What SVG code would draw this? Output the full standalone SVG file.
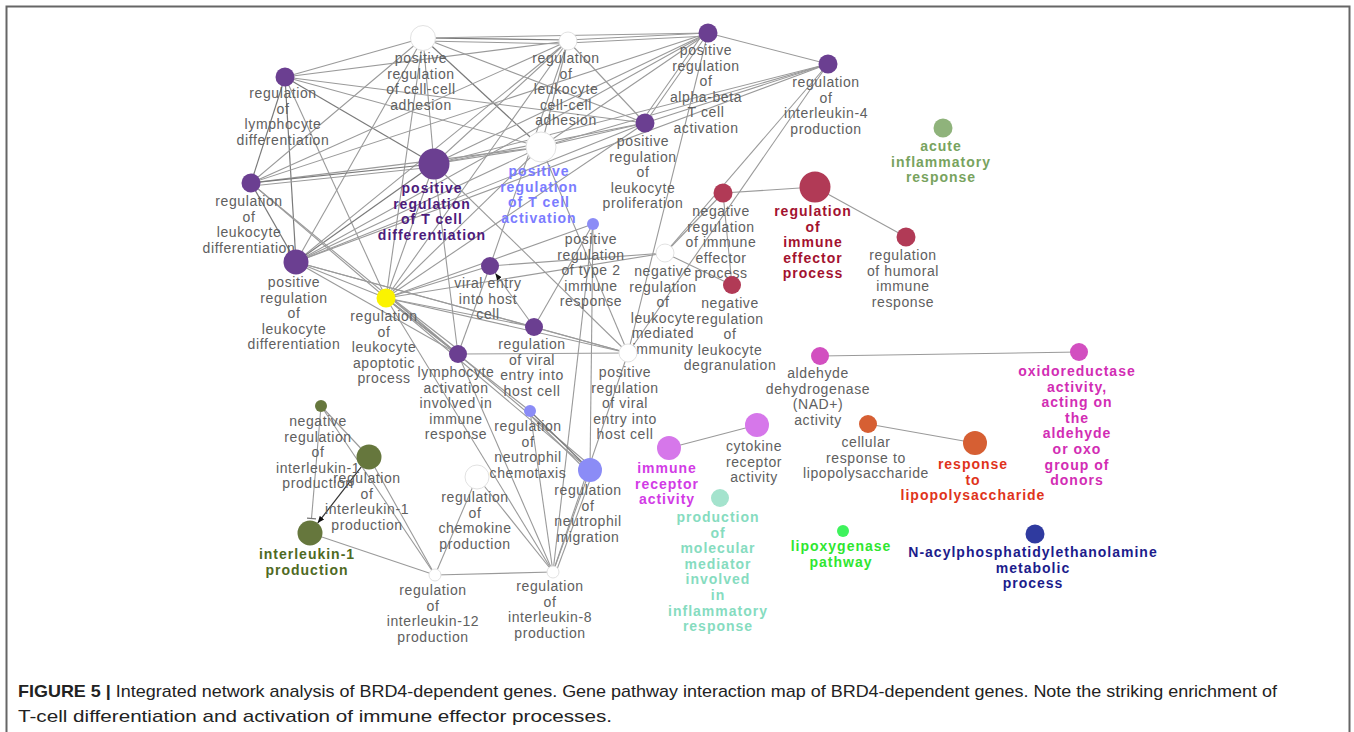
<svg xmlns="http://www.w3.org/2000/svg" width="1354" height="732" viewBox="0 0 1354 732">
<style>
.e{stroke:#9a9a9a;stroke-width:1.1;fill:none}
.ed{stroke:#7a7a7a;stroke-width:1.2;fill:none}
.lb{font-family:"Liberation Sans",Arial,sans-serif;font-size:14px;letter-spacing:.6px;fill:#606060;text-anchor:middle}
.bd{font-family:"Liberation Sans",Arial,sans-serif;font-size:14px;letter-spacing:1px;font-weight:bold;text-anchor:middle}
.pu{fill:#6b3f91}
.wh{fill:#ffffff;stroke:#e2e2e2;stroke-width:1}
.lbu{fill:#8b8cf6}
.rd{fill:#b13a56}
.ol{fill:#66773d}
.cap{font-family:"Liberation Sans",Arial,sans-serif;font-size:17px;fill:#222}
</style>
<defs>
<marker id="arr" viewBox="0 0 10 10" refX="10" refY="5" markerWidth="7" markerHeight="7" markerUnits="userSpaceOnUse" orient="auto"><path d="M0,1 L10,5 L0,9 z" fill="#111"/></marker>
<marker id="tee" viewBox="0 0 4 10" refX="2" refY="5" markerWidth="4" markerHeight="9" markerUnits="userSpaceOnUse" orient="auto"><path d="M2,0 V10" stroke="#777" stroke-width="1.5"/></marker>
</defs>
<rect width="1354" height="732" fill="#fff"/>
<path d="M6.5,732 V6.5 H1349.5 V732" fill="none" stroke="#666" stroke-width="2"/>

<g id="connectors">
<line class="e" x1="285" y1="77" x2="423" y2="38"/>
<line class="e" x1="285" y1="77" x2="568" y2="41"/>
<line class="ed" x1="285" y1="77" x2="251" y2="183"/>
<line class="ed" x1="285" y1="77" x2="296" y2="262"/>
<line class="ed" x1="285" y1="77" x2="434" y2="164"/>
<line class="e" x1="285" y1="77" x2="541" y2="147"/>
<line class="e" x1="285" y1="77" x2="386" y2="298"/>
<line class="e" x1="285" y1="77" x2="645" y2="123"/>
<line class="ed" x1="423" y1="38" x2="568" y2="40"/>
<line class="e" x1="423" y1="41" x2="568" y2="44"/>
<line class="e" x1="423" y1="38" x2="708" y2="33"/>
<line class="e" x1="423" y1="38" x2="434" y2="164"/>
<line class="e" x1="423" y1="38" x2="296" y2="262"/>
<line class="ed" x1="423" y1="38" x2="541" y2="147"/>
<line class="e" x1="423" y1="38" x2="645" y2="123"/>
<line class="e" x1="423" y1="38" x2="386" y2="298"/>
<line class="e" x1="423" y1="38" x2="251" y2="183"/>
<line class="e" x1="568" y1="40" x2="708" y2="33"/>
<line class="e" x1="568" y1="43" x2="708" y2="36"/>
<line class="e" x1="568" y1="41" x2="434" y2="164"/>
<line class="e" x1="568" y1="41" x2="251" y2="183"/>
<line class="e" x1="568" y1="41" x2="296" y2="262"/>
<line class="e" x1="568" y1="41" x2="645" y2="123"/>
<line class="e" x1="568" y1="41" x2="541" y2="147"/>
<line class="e" x1="568" y1="41" x2="386" y2="298"/>
<line class="e" x1="708" y1="33" x2="828" y2="64"/>
<line class="e" x1="708" y1="33" x2="645" y2="123"/>
<line class="e" x1="705" y1="31" x2="642" y2="121"/>
<line class="e" x1="708" y1="33" x2="434" y2="164"/>
<line class="e" x1="708" y1="33" x2="296" y2="262"/>
<line class="e" x1="708" y1="33" x2="541" y2="147"/>
<line class="e" x1="708" y1="33" x2="251" y2="183"/>
<line class="e" x1="708" y1="33" x2="628" y2="353"/>
<line class="e" x1="828" y1="64" x2="434" y2="164"/>
<line class="e" x1="828" y1="64" x2="296" y2="262"/>
<line class="e" x1="828" y1="64" x2="541" y2="147"/>
<line class="e" x1="828" y1="64" x2="628" y2="353"/>
<line class="e" x1="828" y1="64" x2="665" y2="253"/>
<line class="e" x1="828" y1="64" x2="645" y2="123"/>
<line class="e" x1="645" y1="123" x2="434" y2="164"/>
<line class="e" x1="645" y1="123" x2="296" y2="262"/>
<line class="e" x1="645" y1="123" x2="541" y2="147"/>
<line class="e" x1="645" y1="123" x2="386" y2="298"/>
<line class="e" x1="541" y1="147" x2="434" y2="164"/>
<line class="e" x1="541" y1="147" x2="251" y2="183"/>
<line class="e" x1="541" y1="147" x2="296" y2="262"/>
<line class="e" x1="541" y1="147" x2="386" y2="298"/>
<line class="e" x1="541" y1="147" x2="628" y2="353"/>
<line class="ed" x1="434" y1="164" x2="251" y2="183"/>
<line class="e" x1="434" y1="167" x2="251" y2="186"/>
<line class="ed" x1="434" y1="164" x2="296" y2="262"/>
<line class="e" x1="434" y1="164" x2="386" y2="298"/>
<line class="e" x1="434" y1="164" x2="458" y2="354"/>
<line class="e" x1="434" y1="164" x2="628" y2="353"/>
<line class="ed" x1="251" y1="183" x2="296" y2="262"/>
<line class="e" x1="251" y1="183" x2="386" y2="298"/>
<line class="e" x1="251" y1="183" x2="458" y2="354"/>
<line class="e" x1="296" y1="262" x2="386" y2="298"/>
<line class="e" x1="296" y1="262" x2="628" y2="353"/>
<line class="e" x1="296" y1="262" x2="534" y2="327"/>
<line class="e" x1="296" y1="262" x2="458" y2="354"/>
<line class="e" x1="386" y1="298" x2="490" y2="266"/>
<line class="e" x1="386" y1="298" x2="593" y2="224"/>
<line class="e" x1="386" y1="298" x2="665" y2="253"/>
<line class="e" x1="386" y1="298" x2="534" y2="327"/>
<line class="ed" x1="386" y1="298" x2="458" y2="354"/>
<line class="e" x1="388" y1="295" x2="460" y2="351"/>
<line class="e" x1="386" y1="298" x2="628" y2="353"/>
<line class="e" x1="386" y1="298" x2="590" y2="470"/>
<line class="e" x1="389" y1="296" x2="592" y2="467"/>
<line class="e" x1="386" y1="298" x2="530" y2="411"/>
<line class="e" x1="386" y1="298" x2="553" y2="572"/>
<line class="e" x1="490" y1="266" x2="665" y2="253"/>
<line class="e" x1="490" y1="266" x2="458" y2="354"/>
<line class="e" x1="490" y1="266" x2="568" y2="41"/>
<line class="e" x1="534" y1="327" x2="495.3" y2="273.3" marker-end="url(#arr)"/>
<line class="e" x1="593" y1="224" x2="534" y2="327"/>
<line class="e" x1="593" y1="224" x2="553" y2="572"/>
<line class="e" x1="593" y1="224" x2="590" y2="470"/>
<line class="e" x1="665" y1="253" x2="723" y2="193"/>
<line class="e" x1="665" y1="253" x2="732" y2="285"/>
<line class="e" x1="723" y1="193" x2="815" y2="187"/>
<line class="e" x1="723" y1="193" x2="732" y2="285"/>
<line class="e" x1="815" y1="187" x2="906" y2="237"/>
<line class="e" x1="534" y1="327" x2="628" y2="353"/>
<line class="e" x1="458" y1="354" x2="628" y2="353"/>
<line class="e" x1="458" y1="354" x2="553" y2="572"/>
<line class="ed" x1="530" y1="411" x2="590" y2="470"/>
<line class="e" x1="528" y1="413" x2="588" y2="472"/>
<line class="e" x1="530" y1="411" x2="553" y2="572"/>
<line class="e" x1="590" y1="470" x2="553" y2="572"/>
<line class="e" x1="593" y1="472" x2="556" y2="572"/>
<line class="e" x1="628" y1="353" x2="553" y2="572"/>
<line class="e" x1="477" y1="477" x2="435" y2="575"/>
<line class="e" x1="477" y1="477" x2="553" y2="572"/>
<line class="e" x1="435" y1="575" x2="553" y2="572"/>
<line class="e" x1="435" y1="575" x2="310" y2="533"/>
<line class="e" x1="435" y1="575" x2="369" y2="457"/>
<line class="e" x1="435" y1="575" x2="321" y2="406"/>
<line class="e" x1="321" y1="406" x2="369" y2="457"/>
<line class="e" x1="320.5" y1="412" x2="311.5" y2="518.5" marker-end="url(#tee)"/>
<line x1="361.3" y1="466.9" x2="317.7" y2="523.1" stroke="#333" stroke-width="1.2" marker-end="url(#arr)"/>
<line class="e" x1="820" y1="356" x2="1079" y2="352"/>
<line class="e" x1="757" y1="425" x2="669" y2="448"/>
<line class="e" x1="868" y1="424" x2="975" y2="443"/>
</g>

<g id="A"><circle class="pu" cx="285" cy="77" r="9.5"/><text class="lb" x="283" y="98"><tspan x="283">regulation</tspan><tspan x="283" dy="15.6">of</tspan><tspan x="283" dy="15.6">lymphocyte</tspan><tspan x="283" dy="15.6">differentiation</tspan></text></g>
<g id="B"><circle class="wh" cx="423" cy="38" r="12.5"/><text class="lb" x="421" y="63"><tspan x="421">positive</tspan><tspan x="421" dy="15.6">regulation</tspan><tspan x="421" dy="15.6">of cell-cell</tspan><tspan x="421" dy="15.6">adhesion</tspan></text></g>
<g id="C"><circle class="wh" cx="568" cy="41" r="9"/><text class="lb" x="566" y="63"><tspan x="566">regulation</tspan><tspan x="566" dy="15.6">of</tspan><tspan x="566" dy="15.6">leukocyte</tspan><tspan x="566" dy="15.6">cell-cell</tspan><tspan x="566" dy="15.6">adhesion</tspan></text></g>
<g id="D"><circle class="pu" cx="708" cy="33" r="9.5"/><text class="lb" x="706" y="55"><tspan x="706">positive</tspan><tspan x="706" dy="15.6">regulation</tspan><tspan x="706" dy="15.6">of</tspan><tspan x="706" dy="15.6">alpha-beta</tspan><tspan x="706" dy="15.6">T cell</tspan><tspan x="706" dy="15.6">activation</tspan></text></g>
<g id="E"><circle class="pu" cx="828" cy="64" r="9.5"/><text class="lb" x="826" y="87"><tspan x="826">regulation</tspan><tspan x="826" dy="15.6">of</tspan><tspan x="826" dy="15.6">interleukin-4</tspan><tspan x="826" dy="15.6">production</tspan></text></g>
<g id="F"><circle cx="943" cy="128" r="9.5" fill="#8fb37b"/><text class="bd" x="941" y="151" fill="#78a35e"><tspan x="941">acute</tspan><tspan x="941" dy="15.6">inflammatory</tspan><tspan x="941" dy="15.6">response</tspan></text></g>
<g id="G"><circle class="pu" cx="645" cy="123" r="9.5"/><text class="lb" x="643" y="146"><tspan x="643">positive</tspan><tspan x="643" dy="15.6">regulation</tspan><tspan x="643" dy="15.6">of</tspan><tspan x="643" dy="15.6">leukocyte</tspan><tspan x="643" dy="15.6">proliferation</tspan></text></g>
<g id="H"><circle class="wh" cx="541" cy="147" r="15"/><text class="bd" x="539" y="176" fill="#7b7cff"><tspan x="539">positive</tspan><tspan x="539" dy="15.6">regulation</tspan><tspan x="539" dy="15.6">of T cell</tspan><tspan x="539" dy="15.6">activation</tspan></text></g>
<g id="I"><circle class="pu" cx="434" cy="164" r="15.5"/><text class="bd" x="432" y="193" fill="#4d1c7c"><tspan x="432">positive</tspan><tspan x="432" dy="15.6">regulation</tspan><tspan x="432" dy="15.6">of T cell</tspan><tspan x="432" dy="15.6">differentiation</tspan></text></g>
<g id="J"><circle class="pu" cx="251" cy="183" r="9.5"/><text class="lb" x="249" y="206"><tspan x="249">regulation</tspan><tspan x="249" dy="15.6">of</tspan><tspan x="249" dy="15.6">leukocyte</tspan><tspan x="249" dy="15.6">differentiation</tspan></text></g>
<g id="K"><circle class="pu" cx="296" cy="262" r="12.5"/><text class="lb" x="294" y="287"><tspan x="294">positive</tspan><tspan x="294" dy="15.6">regulation</tspan><tspan x="294" dy="15.6">of</tspan><tspan x="294" dy="15.6">leukocyte</tspan><tspan x="294" dy="15.6">differentiation</tspan></text></g>
<g id="L"><circle cx="386" cy="298" r="9.5" fill="#fbf300"/><text class="lb" x="384" y="321"><tspan x="384">regulation</tspan><tspan x="384" dy="15.6">of</tspan><tspan x="384" dy="15.6">leukocyte</tspan><tspan x="384" dy="15.6">apoptotic</tspan><tspan x="384" dy="15.6">process</tspan></text></g>
<g id="M"><circle class="pu" cx="490" cy="266" r="9"/><text class="lb" x="488" y="288"><tspan x="488">viral entry</tspan><tspan x="488" dy="15.6">into host</tspan><tspan x="488" dy="15.6">cell</tspan></text></g>
<g id="N"><circle class="lbu" cx="593" cy="224" r="6"/><text class="lb" x="591" y="244"><tspan x="591">positive</tspan><tspan x="591" dy="15.6">regulation</tspan><tspan x="591" dy="15.6">of type 2</tspan><tspan x="591" dy="15.6">immune</tspan><tspan x="591" dy="15.6">response</tspan></text></g>
<g id="O"><circle class="wh" cx="665" cy="253" r="9"/><text class="lb" x="663" y="276"><tspan x="663">negative</tspan><tspan x="663" dy="15.6">regulation</tspan><tspan x="663" dy="15.6">of</tspan><tspan x="663" dy="15.6">leukocyte</tspan><tspan x="663" dy="15.6">mediated</tspan><tspan x="663" dy="15.6">immunity</tspan></text></g>
<g id="P"><circle class="rd" cx="723" cy="193" r="9.5"/><text class="lb" x="721" y="216"><tspan x="721">negative</tspan><tspan x="721" dy="15.6">regulation</tspan><tspan x="721" dy="15.6">of immune</tspan><tspan x="721" dy="15.6">effector</tspan><tspan x="721" dy="15.6">process</tspan></text></g>
<g id="Q"><circle class="rd" cx="815" cy="187" r="15.5"/><text class="bd" x="813" y="216" fill="#a3122f"><tspan x="813">regulation</tspan><tspan x="813" dy="15.6">of</tspan><tspan x="813" dy="15.6">immune</tspan><tspan x="813" dy="15.6">effector</tspan><tspan x="813" dy="15.6">process</tspan></text></g>
<g id="R"><circle class="rd" cx="906" cy="237" r="9.5"/><text class="lb" x="903" y="260"><tspan x="903">regulation</tspan><tspan x="903" dy="15.6">of humoral</tspan><tspan x="903" dy="15.6">immune</tspan><tspan x="903" dy="15.6">response</tspan></text></g>
<g id="S"><circle class="rd" cx="732" cy="285" r="9"/><text class="lb" x="730" y="308"><tspan x="730">negative</tspan><tspan x="730" dy="15.6">regulation</tspan><tspan x="730" dy="15.6">of</tspan><tspan x="730" dy="15.6">leukocyte</tspan><tspan x="730" dy="15.6">degranulation</tspan></text></g>
<g id="T"><circle class="pu" cx="534" cy="327" r="9"/><text class="lb" x="532" y="349"><tspan x="532">regulation</tspan><tspan x="532" dy="15.6">of viral</tspan><tspan x="532" dy="15.6">entry into</tspan><tspan x="532" dy="15.6">host cell</tspan></text></g>
<g id="U"><circle class="pu" cx="458" cy="354" r="9"/><text class="lb" x="456" y="377"><tspan x="456">lymphocyte</tspan><tspan x="456" dy="15.6">activation</tspan><tspan x="456" dy="15.6">involved in</tspan><tspan x="456" dy="15.6">immune</tspan><tspan x="456" dy="15.6">response</tspan></text></g>
<g id="V"><circle class="wh" cx="628" cy="353" r="9"/><text class="lb" x="625" y="377"><tspan x="625">positive</tspan><tspan x="625" dy="15.6">regulation</tspan><tspan x="625" dy="15.6">of viral</tspan><tspan x="625" dy="15.6">entry into</tspan><tspan x="625" dy="15.6">host cell</tspan></text></g>
<g id="W"><circle class="lbu" cx="530" cy="411" r="6"/><text class="lb" x="528" y="431"><tspan x="528">regulation</tspan><tspan x="528" dy="15.6">of</tspan><tspan x="528" dy="15.6">neutrophil</tspan><tspan x="528" dy="15.6">chemotaxis</tspan></text></g>
<g id="X"><circle class="lbu" cx="590" cy="470" r="12"/><text class="lb" x="588" y="495"><tspan x="588">regulation</tspan><tspan x="588" dy="15.6">of</tspan><tspan x="588" dy="15.6">neutrophil</tspan><tspan x="588" dy="15.6">migration</tspan></text></g>
<g id="Y"><circle class="wh" cx="477" cy="477" r="12"/><text class="lb" x="475" y="502"><tspan x="475">regulation</tspan><tspan x="475" dy="15.6">of</tspan><tspan x="475" dy="15.6">chemokine</tspan><tspan x="475" dy="15.6">production</tspan></text></g>
<g id="Z"><circle class="ol" cx="321" cy="406" r="6"/><text class="lb" x="318" y="426"><tspan x="318">negative</tspan><tspan x="318" dy="15.6">regulation</tspan><tspan x="318" dy="15.6">of</tspan><tspan x="318" dy="15.6">interleukin-1</tspan><tspan x="318" dy="15.6">production</tspan></text></g>
<g id="AA"><circle class="ol" cx="369" cy="457" r="12.5"/><text class="lb" x="367" y="483"><tspan x="367">regulation</tspan><tspan x="367" dy="15.6">of</tspan><tspan x="367" dy="15.6">interleukin-1</tspan><tspan x="367" dy="15.6">production</tspan></text></g>
<g id="AB"><circle class="ol" cx="310" cy="533" r="12.5"/><text class="bd" x="307" y="559" fill="#4f6a1f"><tspan x="307">interleukin-1</tspan><tspan x="307" dy="15.6">production</tspan></text></g>
<g id="AC"><circle class="wh" cx="435" cy="575" r="6"/><text class="lb" x="433" y="595"><tspan x="433">regulation</tspan><tspan x="433" dy="15.6">of</tspan><tspan x="433" dy="15.6">interleukin-12</tspan><tspan x="433" dy="15.6">production</tspan></text></g>
<g id="AD"><circle class="wh" cx="553" cy="572" r="6"/><text class="lb" x="550" y="591"><tspan x="550">regulation</tspan><tspan x="550" dy="15.6">of</tspan><tspan x="550" dy="15.6">interleukin-8</tspan><tspan x="550" dy="15.6">production</tspan></text></g>
<g id="AE"><circle cx="820" cy="356" r="9" fill="#d24fc0"/><text class="lb" x="818" y="378"><tspan x="818">aldehyde</tspan><tspan x="818" dy="15.6">dehydrogenase</tspan><tspan x="818" dy="15.6">(NAD+)</tspan><tspan x="818" dy="15.6">activity</tspan></text></g>
<g id="AF"><circle cx="1079" cy="352" r="9" fill="#d24fc0"/><text class="bd" x="1077" y="376" fill="#d22db4"><tspan x="1077">oxidoreductase</tspan><tspan x="1077" dy="15.6">activity,</tspan><tspan x="1077" dy="15.6">acting on</tspan><tspan x="1077" dy="15.6">the</tspan><tspan x="1077" dy="15.6">aldehyde</tspan><tspan x="1077" dy="15.6">or oxo</tspan><tspan x="1077" dy="15.6">group of</tspan><tspan x="1077" dy="15.6">donors</tspan></text></g>
<g id="AG"><circle cx="757" cy="425" r="12" fill="#d677ea"/><text class="lb" x="754" y="451"><tspan x="754">cytokine</tspan><tspan x="754" dy="15.6">receptor</tspan><tspan x="754" dy="15.6">activity</tspan></text></g>
<g id="AH"><circle cx="669" cy="448" r="12" fill="#d677ea"/><text class="bd" x="667" y="473" fill="#d23be6"><tspan x="667">immune</tspan><tspan x="667" dy="15.6">receptor</tspan><tspan x="667" dy="15.6">activity</tspan></text></g>
<g id="AI"><circle cx="720" cy="498" r="9" fill="#a4e3cd"/><text class="bd" x="718" y="522" fill="#86dcbf"><tspan x="718">production</tspan><tspan x="718" dy="15.6">of</tspan><tspan x="718" dy="15.6">molecular</tspan><tspan x="718" dy="15.6">mediator</tspan><tspan x="718" dy="15.6">involved</tspan><tspan x="718" dy="15.6">in</tspan><tspan x="718" dy="15.6">inflammatory</tspan><tspan x="718" dy="15.6">response</tspan></text></g>
<g id="AJ"><circle cx="868" cy="424" r="9" fill="#d65f33"/><text class="lb" x="866" y="447"><tspan x="866">cellular</tspan><tspan x="866" dy="15.6">response to</tspan><tspan x="866" dy="15.6">lipopolysaccharide</tspan></text></g>
<g id="AK"><circle cx="975" cy="443" r="12" fill="#d65f33"/><text class="bd" x="973" y="469" fill="#e0331b"><tspan x="973">response</tspan><tspan x="973" dy="15.6">to</tspan><tspan x="973" dy="15.6">lipopolysaccharide</tspan></text></g>
<g id="AL"><circle cx="843" cy="531" r="6" fill="#3ef35c"/><text class="bd" x="841" y="551" fill="#2fe630"><tspan x="841">lipoxygenase</tspan><tspan x="841" dy="15.6">pathway</tspan></text></g>
<g id="AM"><circle cx="1035" cy="534" r="9.5" fill="#2f3a9f"/><text class="bd" x="1033" y="557" fill="#1c1c8c"><tspan x="1033">N-acylphosphatidylethanolamine</tspan><tspan x="1033" dy="15.6">metabolic</tspan><tspan x="1033" dy="15.6">process</tspan></text></g>

<g id="caption">
<text class="cap" x="18" y="697" textLength="1259" lengthAdjust="spacingAndGlyphs"><tspan font-weight="bold">FIGURE 5 |</tspan> Integrated network analysis of BRD4-dependent genes. Gene pathway interaction map of BRD4-dependent genes. Note the striking enrichment of</text>
<text class="cap" x="18" y="722" textLength="594" lengthAdjust="spacingAndGlyphs">T-cell differentiation and activation of immune effector processes.</text>
</g>
</svg>
